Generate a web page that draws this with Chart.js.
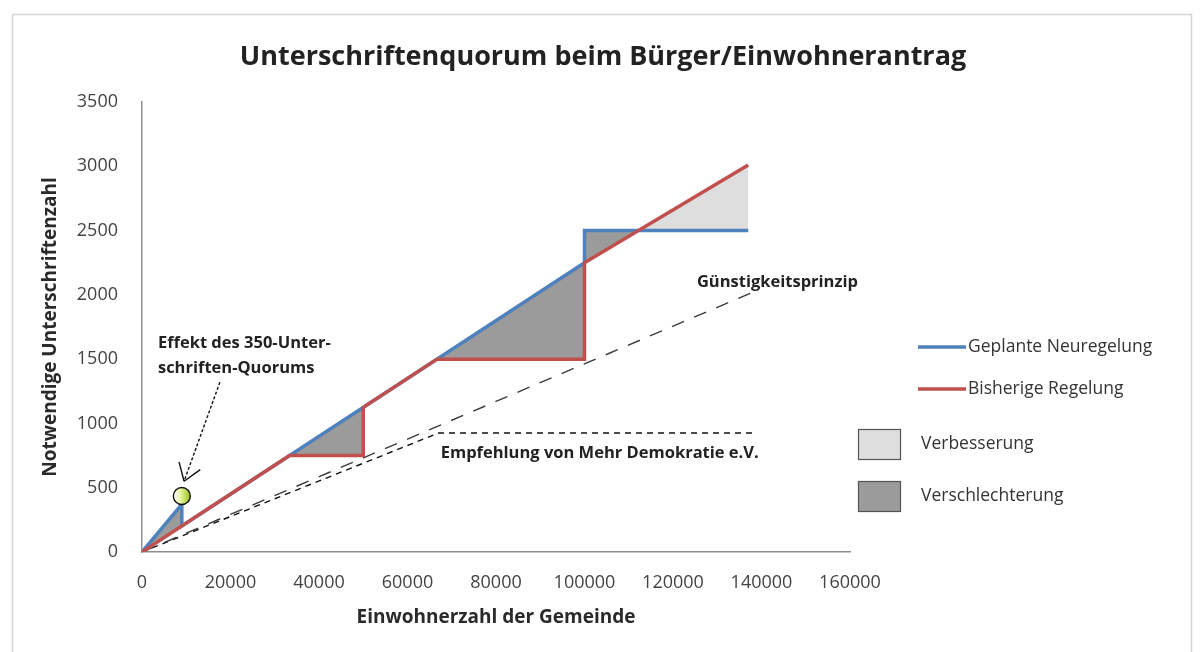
<!DOCTYPE html>
<html>
<head>
<meta charset="utf-8">
<script src="https://cdn.jsdelivr.net/npm/chart.js@4.4.1/dist/chart.umd.min.js"></script>
<style>
  html, body { margin: 0; padding: 0; background: #fff; }
  canvas { display: block; }
</style>
</head>
<body>
<canvas id="chart" width="1203" height="652"></canvas>
<script>
// Signature quorum by municipality size (population -> required signatures)
const plannedPop = [0, 9000, 9000, 100000, 100000, 137000];
const plannedSig = [0, 370, 203, 2250, 2500, 2500];

const currentPop = [0, 33333, 50000, 50000, 66667, 100000, 100000, 137000];
const currentSig = [0, 750, 750, 1125, 1500, 1500, 2250, 3010];

const favourablePop = [0, 138000];
const favourableSig = [0, 2020];

const recommendedPop = [0, 67000, 138000];
const recommendedSig = [0, 925, 925];

const xTickStep = 20000, xMax = 160000;
const yTickStep = 500, yMax = 3500;

const TITLE = 'Unterschriftenquorum beim Bürger/Einwohnerantrag';
const X_TITLE = 'Einwohnerzahl der Gemeinde';
const Y_TITLE = 'Notwendige Unterschriftenzahl';

const BLUE = '#4f81bd';
const RED = '#c0504d';
const DARK_FILL = '#9b9b9b';
const LIGHT_FILL = '#dedede';
const FONT = '"Open Sans", "Liberation Sans", sans-serif';

const legendItems = [
  { label: 'Geplante Neuregelung', kind: 'line', color: BLUE },
  { label: 'Bisherige Regelung', kind: 'line', color: RED },
  { label: 'Verbesserung', kind: 'box', color: LIGHT_FILL },
  { label: 'Verschlechterung', kind: 'box', color: DARK_FILL }
];

// Text notes placed in data coordinates
const notes = [
  { text: 'Effekt des 350-Unter-', x: 3600, y: 1625 },
  { text: 'schriften-Quorums', x: 3600, y: 1430 },
  { text: 'Günstigkeitsprinzip', x: 125400, y: 2100 },
  { text: 'Empfehlung von Mehr Demokratie e.V.', x: 67500, y: 770 }
];
const arrowFrom = { x: 17600, y: 1320 };
const arrowTo = { x: 9500, y: 550 };
const markerAt = { x: 9000, y: 436 };

const pts = (xs, ys) => xs.map((x, i) => ({ x, y: ys[i] }));

const decor = {
  id: 'decor',
  beforeDraw(chart) {
    const { ctx, width, height } = chart;
    ctx.save();
    ctx.fillStyle = '#fff';
    ctx.fillRect(0, 0, width, height);
    ctx.strokeStyle = '#d4d4d4';
    ctx.lineWidth = 1.5;
    ctx.strokeRect(12.5, 14.5, 1179, 640);
    ctx.restore();
  },
  afterDraw(chart) {
    const { ctx } = chart;
    const xs = chart.scales.x, ys = chart.scales.y;
    const px = v => xs.getPixelForValue(v);
    const py = v => ys.getPixelForValue(v);
    ctx.save();

    // Title
    ctx.fillStyle = '#222';
    ctx.font = 'bold 27px ' + FONT;
    ctx.textAlign = 'center';
    ctx.textBaseline = 'middle';
    ctx.fillText(TITLE, 603, 57);

    // Legend
    ctx.textAlign = 'left';
    ctx.font = '17.5px ' + FONT;
    const rows = [347, 389, 444, 496];
    legendItems.forEach((it, i) => {
      const y = rows[i];
      if (it.kind === 'line') {
        ctx.strokeStyle = it.color;
        ctx.lineWidth = 3.5;
        ctx.beginPath();
        ctx.moveTo(918, y);
        ctx.lineTo(966, y);
        ctx.stroke();
        ctx.fillStyle = '#333';
        ctx.fillText(it.label, 968, y);
      } else {
        ctx.fillStyle = it.color;
        ctx.fillRect(858, y - 15, 42, 30);
        ctx.strokeStyle = '#555';
        ctx.lineWidth = 1.2;
        ctx.strokeRect(858.5, y - 14.5, 42, 30);
        ctx.fillStyle = '#333';
        ctx.fillText(it.label, 921, y);
      }
    });

    // Notes
    ctx.font = 'bold 16.5px ' + FONT;
    ctx.fillStyle = '#222';
    notes.forEach(n => ctx.fillText(n.text, px(n.x), py(n.y)));

    // Arrow towards the small-town quorum effect
    const ax0 = px(arrowFrom.x), ay0 = py(arrowFrom.y);
    const ax1 = px(arrowTo.x), ay1 = py(arrowTo.y);
    ctx.strokeStyle = '#111';
    ctx.lineWidth = 1.4;
    ctx.setLineDash([3, 2]);
    ctx.beginPath();
    ctx.moveTo(ax0, ay0);
    ctx.lineTo(ax1, ay1);
    ctx.stroke();
    ctx.setLineDash([]);
    const ang = Math.atan2(ay1 - ay0, ax1 - ax0);
    [-0.6, 0.6].forEach(d => {
      ctx.beginPath();
      ctx.moveTo(ax1, ay1);
      ctx.lineTo(ax1 - 20 * Math.cos(ang + d), ay1 - 20 * Math.sin(ang + d));
      ctx.stroke();
    });

    // Highlight ring
    const cx = px(markerAt.x), cy = py(markerAt.y);
    const g = ctx.createLinearGradient(cx - 8, cy, cx + 8, cy);
    g.addColorStop(0, '#ffffff');
    g.addColorStop(0.45, '#e4f29a');
    g.addColorStop(1, '#9cc424');
    ctx.fillStyle = g;
    ctx.beginPath();
    ctx.arc(cx, cy, 8.5, 0, Math.PI * 2);
    ctx.fill();
    ctx.strokeStyle = '#111';
    ctx.lineWidth = 1.4;
    ctx.stroke();

    ctx.restore();
  }
};

new Chart(document.getElementById('chart'), {
  type: 'scatter',
  data: {
    datasets: [
      {
        label: 'Bisherige Regelung',
        data: pts(currentPop, currentSig),
        showLine: true,
        borderColor: RED,
        borderWidth: 3.5,
        pointRadius: 0,
        fill: false,
        order: 0
      },
      {
        label: 'Geplante Neuregelung',
        data: pts(plannedPop, plannedSig),
        showLine: true,
        borderColor: BLUE,
        borderWidth: 3.5,
        pointRadius: 0,
        fill: { target: 0, above: DARK_FILL, below: LIGHT_FILL },
        order: 1
      },
      {
        label: 'Günstigkeitsprinzip',
        data: pts(favourablePop, favourableSig),
        showLine: true,
        borderColor: '#3a3a3a',
        borderWidth: 1.4,
        borderDash: [13, 11],
        pointRadius: 0,
        fill: false,
        order: 2
      },
      {
        label: 'Empfehlung von Mehr Demokratie e.V.',
        data: pts(recommendedPop, recommendedSig),
        showLine: true,
        borderColor: '#111',
        borderWidth: 1.4,
        borderDash: [6, 5],
        pointRadius: 0,
        fill: false,
        order: 3
      }
    ]
  },
  options: {
    responsive: false,
    animation: false,
    events: [],
    layout: { padding: { left: 0, right: 353, top: 102, bottom: 0 } },
    plugins: {
      legend: { display: false },
      tooltip: { enabled: false },
      title: { display: false }
    },
    scales: {
      x: {
        type: 'linear',
        min: 0,
        max: xMax,
        afterFit: s => { s.height = 100; },
        grid: { display: false, drawTicks: false },
        border: { display: true, color: '#8f8f8f', width: 1.5 },
        ticks: {
          stepSize: xTickStep,
          padding: 20,
          color: '#444',
          font: { family: FONT, size: 18 },
          maxRotation: 0,
          autoSkip: false,
          callback: v => String(v)
        },
        title: {
          display: true,
          text: X_TITLE,
          color: '#2a2a2a',
          font: { family: FONT, size: 19, weight: 'bold' },
          padding: { top: 0, bottom: 23 }
        }
      },
      y: {
        type: 'linear',
        min: 0,
        max: yMax,
        afterFit: s => { s.width = 142; },
        grid: { display: false, drawTicks: false },
        border: { display: true, color: '#8f8f8f', width: 1.5 },
        ticks: {
          stepSize: yTickStep,
          padding: 24,
          color: '#444',
          font: { family: FONT, size: 18 },
          callback: v => String(v)
        },
        title: {
          display: true,
          text: Y_TITLE,
          color: '#2a2a2a',
          font: { family: FONT, size: 19, weight: 'bold' },
          padding: { top: 39, bottom: 0 }
        }
      }
    }
  },
  plugins: [decor]
});
</script>
</body>
</html>
